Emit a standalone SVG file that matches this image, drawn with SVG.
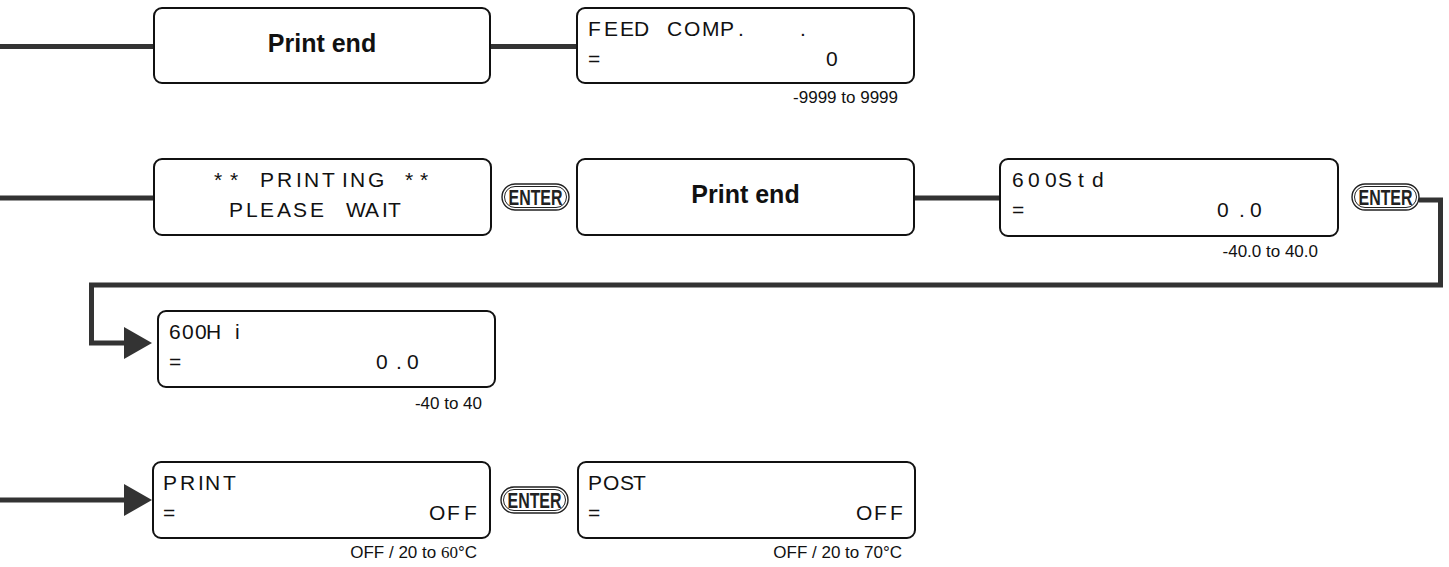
<svg xmlns="http://www.w3.org/2000/svg" width="1449" height="567" viewBox="0 0 1449 567">
<style>
.box{fill:#fff;stroke:#111;stroke-width:2}
.lcd{font-family:"Liberation Sans",Arial,sans-serif;font-size:21px;fill:#111}
.big{font-family:"Liberation Sans",Arial,sans-serif;font-size:25px;font-weight:bold;fill:#111;text-anchor:middle}
.rng{font-family:"Liberation Sans",Arial,sans-serif;font-size:17px;fill:#111;text-anchor:end}
.con{fill:none;stroke:#333;stroke-width:5}
.head{fill:#333}
.pill-o{fill:#fff;stroke:#222;stroke-width:1.4}
.pill-i{fill:none;stroke:#222;stroke-width:1}
.ent{font-family:"Liberation Sans",Arial,sans-serif;font-size:22px;font-weight:bold;fill:#222}
</style>
<defs>
<g id="enterKey">
<rect class="pill-o" x="0" y="0" width="67" height="26" rx="13"/>
<rect class="pill-i" x="2.5" y="2.5" width="62" height="21" rx="10.5"/>
<text class="ent" x="6.5" y="20.8" textLength="54" lengthAdjust="spacingAndGlyphs">ENTER</text>
</g>
</defs>
<g id="connectors">
<path class="con" d="M0 46.5H154"/>
<path class="con" d="M490 46.5H577"/>
<path class="con" d="M0 198H154"/>
<path class="con" d="M914 198H1000"/>
<path class="con" d="M1419 200H1440.5V285H91.5V343H126"/>
<polygon class="head" points="124,327 152,343 124,359"/>
<path class="con" d="M0 500H126"/>
<polygon class="head" points="124,484 152,500 124,516"/>
</g>
<g id="n1-print-end">
<rect class="box" x="154" y="8" width="336" height="75" rx="8"/>
<text class="big" x="322" y="52">Print end</text>
</g>
<g id="n2-feed-comp">
<rect class="box" x="577" y="8" width="337" height="75" rx="8"/>
<text class="lcd" x="588 604 620 634 652 667 684 702 720 738 760 800" y="36">FEED COMP. .</text>
<text class="lcd" x="588" y="66">=</text>
<text class="lcd" x="826" y="66">0</text>
<text class="rng" x="898" y="103">-9999 to 9999</text>
</g>
<g id="n3-printing">
<rect class="box" x="154" y="159" width="337" height="76" rx="8"/>
<text class="lcd" x="214 222 230 245 260 277 296 304 322 342 350 368 390 405 413 420" y="187">* * PRINTING * *</text>
<text class="lcd" x="229 246 260 277 293 310 330 346 365 382 388" y="217">PLEASE WAIT</text>
</g>
<g id="k1-enter" transform="translate(502,184)"><use href="#enterKey"/></g>
<g id="n4-print-end">
<rect class="box" x="577" y="159" width="337" height="76" rx="8"/>
<text class="big" x="745.5" y="203">Print end</text>
</g>
<g id="n5-600std">
<rect class="box" x="1000" y="159" width="338" height="77" rx="8"/>
<text class="lcd" x="1012 1028 1045 1058 1078 1092" y="187">600Std</text>
<text class="lcd" x="1012" y="217">=</text>
<text class="lcd" x="1217 1239 1250" y="217">0.0</text>
<text class="rng" x="1318" y="257">-40.0 to 40.0</text>
</g>
<g id="k2-enter" transform="translate(1352,184)"><use href="#enterKey"/></g>
<g id="n6-600hi">
<rect class="box" x="158" y="311" width="337" height="76" rx="8"/>
<text class="lcd" x="169 182 195 206 235" y="339">600Hi</text>
<text class="lcd" x="169" y="369">=</text>
<text class="lcd" x="376 396 407" y="369">0.0</text>
<text class="rng" x="482" y="409">-40 to 40</text>
</g>
<g id="n7-print">
<rect class="box" x="153" y="462" width="337" height="76" rx="8"/>
<text class="lcd" x="163 180 198 205 223" y="490">PRINT</text>
<text class="lcd" x="163" y="520">=</text>
<text class="lcd" x="429 447 464" y="520">OFF</text>
<text class="rng" x="477" y="558">OFF / 20 to <tspan style="font-family:'Liberation Serif',serif">60</tspan>°C</text>
</g>
<g id="k3-enter" transform="translate(501,487)"><use href="#enterKey"/></g>
<g id="n8-post">
<rect class="box" x="578" y="462" width="337" height="76" rx="8"/>
<text class="lcd" x="588 603 620 633" y="490">POST</text>
<text class="lcd" x="588" y="520">=</text>
<text class="lcd" x="856 874 890" y="520">OFF</text>
<text class="rng" x="902" y="558">OFF / 20 to 70°C</text>
</g>
</svg>
